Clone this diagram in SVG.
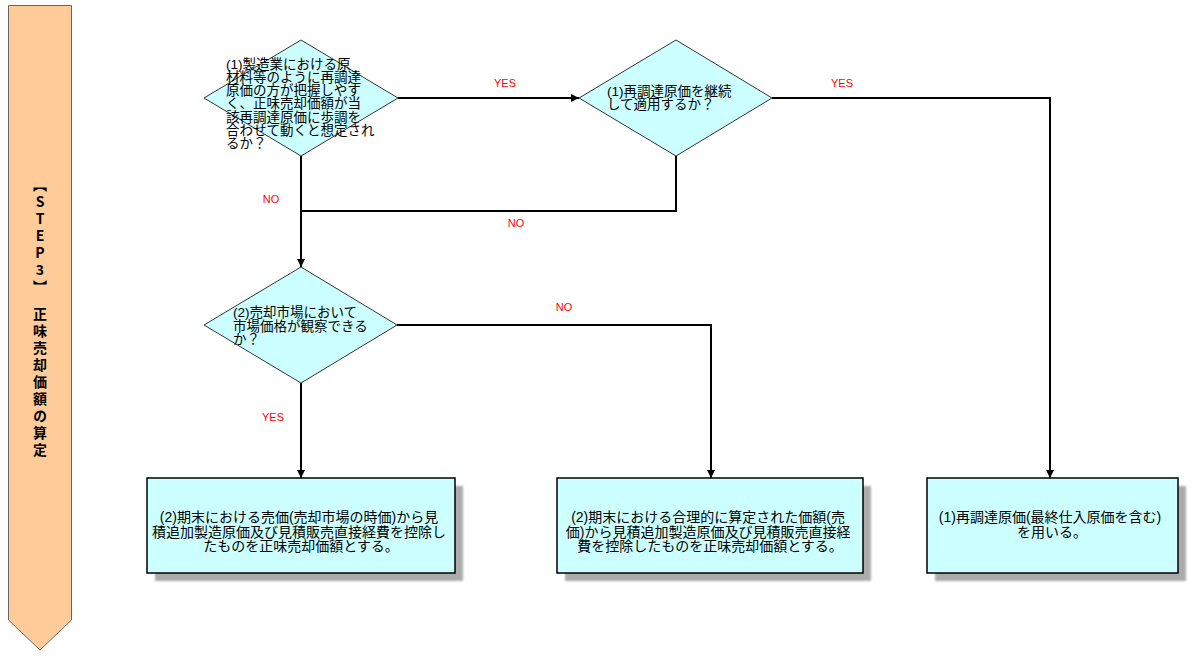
<svg xmlns="http://www.w3.org/2000/svg" width="1196" height="660" viewBox="0 0 1196 660">
  <style>
    .dia { fill: #CCFFFF; stroke: #333; stroke-width: 1; }
    .box { fill: #CCFFFF; stroke: #000; stroke-width: 1.5; }
    .shadow { fill: #ABABAB; }
    .conn { fill: none; stroke: #000; stroke-width: 2; }
    .t { font-family: "Liberation Sans", "Noto Sans CJK JP", sans-serif; fill: #000; }
    .dt { font-size: 13.5px; }
    .bt { font-size: 14px; text-anchor: middle; }
    .lbl { font-family: "Liberation Sans", Arial, sans-serif; font-size: 11px; fill: #FF0000; text-anchor: middle; }
    .side { font-family: "Noto Sans CJK JP", sans-serif; font-size: 14px; font-weight: bold; fill: #000; }
  </style>
  <defs>
    <marker id="arrow" viewBox="0 0 10 10" refX="10" refY="5" markerWidth="8" markerHeight="8" markerUnits="userSpaceOnUse" orient="auto">
      <path d="M0,0 L10,5 L0,10 z" fill="#000"/>
    </marker>
    <filter id="blur" x="-5%" y="-5%" width="110%" height="110%">
      <feGaussianBlur stdDeviation="1"/>
    </filter>
  </defs>
  <rect width="1196" height="660" fill="#fff"/>

  <g id="sidebar">
    <polygon points="8.5,5.5 71.5,5.5 71.5,620 40,650 8.5,620" fill="#FFCC99" stroke="#666" stroke-width="1"/>
    <text class="side" x="40" y="178" writing-mode="vertical-rl" style="text-orientation: upright; letter-spacing: 3px;">【STEP3】　正味売却価額の算定</text>
  </g>

  <g id="connectors">
    <path class="conn" d="M398,98 H579" marker-end="url(#arrow)"/>
    <path class="conn" d="M772,98 H1050 V478" marker-end="url(#arrow)"/>
    <path class="conn" d="M301,156 V267" marker-end="url(#arrow)"/>
    <path class="conn" d="M676,156 V211 H301"/>
    <path class="conn" d="M397,325 H711 V478" marker-end="url(#arrow)"/>
    <path class="conn" d="M301,383 V478" marker-end="url(#arrow)"/>
    <text class="lbl" x="505" y="87">YES</text>
    <text class="lbl" x="842" y="87">YES</text>
    <text class="lbl" x="271" y="203">NO</text>
    <text class="lbl" x="516" y="227">NO</text>
    <text class="lbl" x="564" y="311">NO</text>
    <text class="lbl" x="273" y="421">YES</text>
  </g>

  <g id="decision1">
    <polygon class="dia" points="301,40 398,98 301,156 204,98"/>
    <text class="t dt">
      <tspan x="226" y="68.5">(1)製造業における原</tspan>
      <tspan x="226" y="81.8">材料等のように再調達</tspan>
      <tspan x="226" y="95.1">原価の方が把握しやす</tspan>
      <tspan x="226" y="108.4">く、正味売却価額が当</tspan>
      <tspan x="226" y="121.7">該再調達原価に歩調を</tspan>
      <tspan x="226" y="135">合わせて動くと想定され</tspan>
      <tspan x="226" y="148.3">るか？</tspan>
    </text>
  </g>

  <g id="decision2">
    <polygon class="dia" points="676,40 772,98 676,156 579,98"/>
    <text class="t dt">
      <tspan x="607" y="96">(1)再調達原価を継続</tspan>
      <tspan x="607" y="109">して適用するか？</tspan>
    </text>
  </g>

  <g id="decision3">
    <polygon class="dia" points="301,267 397,325 301,383 204,325"/>
    <text class="t dt">
      <tspan x="233" y="317">(2)売却市場において</tspan>
      <tspan x="233" y="330.5">市場価格が観察できる</tspan>
      <tspan x="233" y="344">か？</tspan>
    </text>
  </g>

  <g id="result1">
    <rect class="shadow" x="155" y="486" width="308" height="95" filter="url(#blur)"/>
    <rect class="box" x="147" y="478" width="308" height="95"/>
    <text class="t bt">
      <tspan x="301" y="522">(2)期末における売価(売却市場の時価)から見</tspan>
      <tspan x="301" y="536.5">積追加製造原価及び見積販売直接経費を控除し</tspan>
      <tspan x="301" y="551">たものを正味売却価額とする。</tspan>
    </text>
  </g>

  <g id="result2">
    <rect class="shadow" x="565" y="486" width="306" height="95" filter="url(#blur)"/>
    <rect class="box" x="557" y="478" width="306" height="95"/>
    <text class="t bt">
      <tspan x="710" y="522">(2)期末における合理的に算定された価額(売</tspan>
      <tspan x="710" y="536.5">価)から見積追加製造原価及び見積販売直接経</tspan>
      <tspan x="710" y="551">費を控除したものを正味売却価額とする。</tspan>
    </text>
  </g>

  <g id="result3">
    <rect class="shadow" x="935" y="486" width="251" height="95" filter="url(#blur)"/>
    <rect class="box" x="927" y="478" width="251" height="95"/>
    <text class="t bt">
      <tspan x="1052" y="522">(1)再調達原価(最終仕入原価を含む)</tspan>
      <tspan x="1052" y="537">を用いる。</tspan>
    </text>
  </g>
</svg>
